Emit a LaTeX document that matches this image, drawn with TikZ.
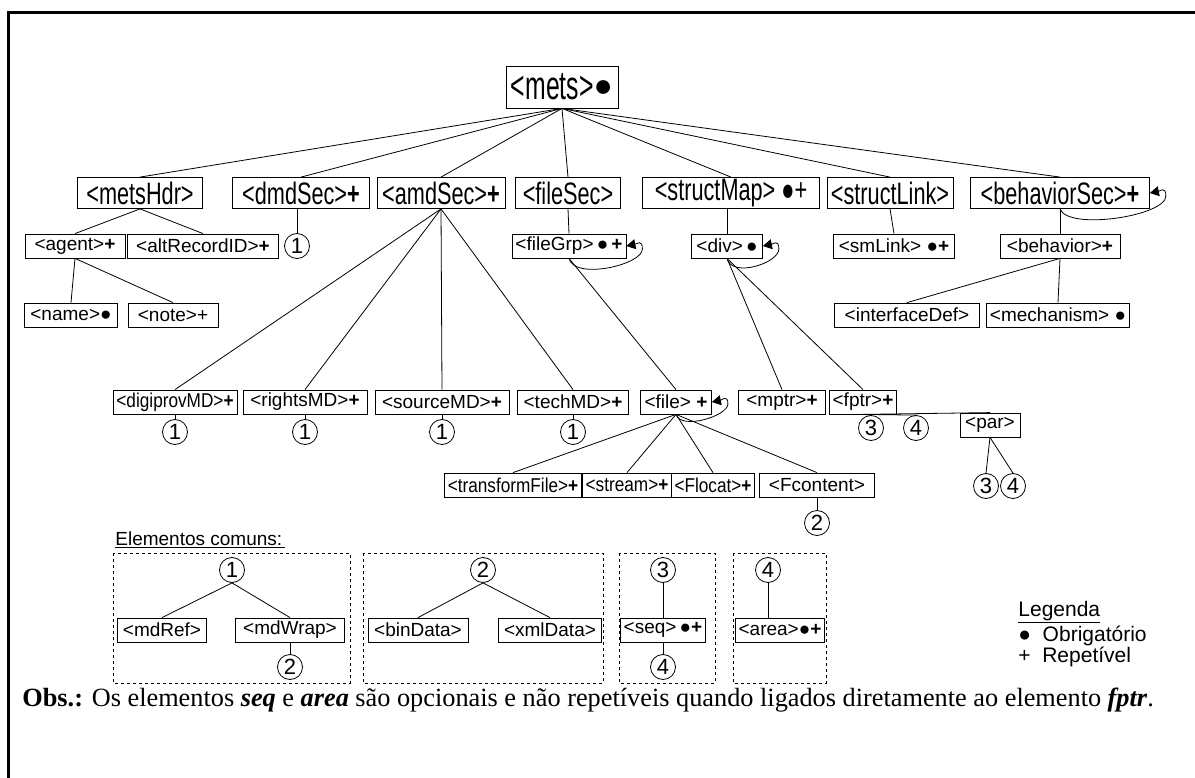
\documentclass[tikz,border=0pt]{standalone}
\usepackage{fontspec}
\setmainfont{Liberation Sans}
\newfontfamily\arialn[FakeStretch=0.7]{Liberation Sans}
\newfontfamily\arialt[FakeStretch=0.62]{Liberation Sans}
\newfontfamily\arialm[FakeStretch=0.86]{Liberation Sans}
\newfontfamily\arialr{Liberation Sans}
\newfontfamily\timesf{Liberation Serif}
\usetikzlibrary{arrows.meta,calc}
\newcommand\fsm{\fontsize{19}{22}\selectfont}
\newcommand\fsn{\arialm\fontsize{20}{22}\selectfont}
\newcommand\fbg{\arialn\fontsize{31}{34}\selectfont}
\newcommand\fhg{\arialt\fontsize{40}{44}\selectfont}
\newcommand\fci{\fontsize{22}{24}\selectfont}
\newcommand\pb{\textbf{+}}
\newcommand\blt{●}
\begin{document}
\begin{tikzpicture}[x=1pt,y=-1pt,line width=0.8pt,
  box/.style={draw, fill=white, font=\fsm, inner xsep=3pt, inner ysep=0pt, minimum height=24pt},
  big/.style={draw, fill=white, font=\fbg, inner xsep=4pt, inner ysep=0pt, minimum height=31pt},
  top/.style={draw, fill=white, font=\fhg, inner xsep=5pt, inner ysep=0pt, minimum height=42pt},
  circ/.style={draw, circle, inner sep=0pt, minimum size=25pt, font=\fci},
  mw/.style={minimum width=#1},
  conn/.style={draw, line width=0.8pt},
  selfloop/.style={draw, line width=0.8pt, -{Triangle[length=9pt,width=10pt]}},
  dbox/.style={draw, line width=0.8pt, dash pattern=on 3pt off 3pt},
  plain/.style={font=\fsm, inner sep=0pt, anchor=west}]
\useasboundingbox (0,0) rectangle (1195,778);
\draw[line width=3pt] (8,800) -- (8,13) -- (1210,13);

% level 0
\node[top,mw=104pt] (mets) at (562,87) {<mets>\raisebox{3pt}{\arialr\fontsize{32}{32}\selectfont\blt}};
% level 1
\node[big,mw=125pt] (metsHdr) at (140,193) {<metsHdr>};
\node[big,mw=137pt] (dmdSec) at (301,193) {<dmdSec>\pb};
\node[big,mw=128pt] (amdSec) at (441,193) {<amdSec>\pb};
\node[big,mw=105pt] (fileSec) at (568,193) {<fileSec>};
\node[big,mw=177pt] (structMap) at (731,193) {<structMap> \blt+};
\node[big,mw=122pt] (structLink) at (890,193) {<structLink>};
\node[big,mw=179pt] (behaviorSec) at (1060,193) {<behaviorSec>\pb};
% level 2
\node[box,mw=100pt] (agent) at (75,246) {<agent>\pb};
\node[box,mw=151pt] (altRecordID) at (203,246) {<altRecordID>\pb};
\node[circ] (c1a) at (297,246) {1};
\node[box,mw=114pt] (fileGrp) at (569,246) {<fileGrp>\,\blt\,\pb};
\node[box,mw=71pt] (div) at (727,246) {<div>\,\blt};
\node[box,mw=121pt] (smLink) at (894,246) {<smLink> \blt\pb};
\node[box,mw=120pt] (behavior) at (1060,246) {<behavior>\pb};
% level 3
\node[box,mw=93pt] (name) at (71,315) {<name>\blt};
\node[box,mw=90pt] (note) at (173,315) {<note>+};
\node[box,mw=145pt] (interfaceDef) at (907,315) {<interfaceDef>};
\node[box,mw=143pt] (mechanism) at (1058,315) {<mechanism> \blt};
% level 4
\node[box,font=\fsn,mw=124pt] (digiprovMD) at (175,402) {<digiprovMD>\pb};
\node[box,mw=124pt] (rightsMD) at (305,402) {<rightsMD>\pb};
\node[box,mw=134pt] (sourceMD) at (442,402) {<sourceMD>\pb};
\node[box,mw=111pt] (techMD) at (573,402) {<techMD>\pb};
\node[box,mw=71pt] (file) at (676,402) {<file> \pb};
\node[box,mw=87pt] (mptr) at (782,402) {<mptr>\pb};
\node[box,mw=63pt] (fptr) at (863,402) {<fptr>\pb};
\node[circ] (c1b) at (175,432) {1};
\node[circ] (c1c) at (305,432) {1};
\node[circ] (c1d) at (442,432) {1};
\node[circ] (c1e) at (573,432) {1};
\node[circ] (c3a) at (871,428) {3};
\node[circ] (c4a) at (916,428) {4};
\node[box,mw=60pt] (par) at (990,425) {<par>};
\node[circ] (c3b) at (986,486) {3};
\node[circ] (c4b) at (1013,486) {4};
% level 5
\node[box,font=\fsn,mw=136pt] (transformFile) at (513,485) {<transformFile>\pb};
\node[box,font=\fsn,mw=87pt] (stream) at (627,485) {<stream>\pb};
\node[box,font=\fsn,mw=77pt] (Flocat) at (713,485) {<Flocat>\pb};
\node[box,mw=115pt] (Fcontent) at (817,485) {<Fcontent>};
\node[circ] (c2a) at (817,523) {2};

% connectors
\foreach \n in {metsHdr,dmdSec,amdSec,fileSec,structMap,structLink,behaviorSec}
  \draw[conn] (mets.south) -- (\n.north);
\draw[conn] (metsHdr.south) -- (agent.north);
\draw[conn] (metsHdr.south) -- (altRecordID.north);
\draw[conn] (c1a.north |- dmdSec.south) -- (c1a.north);
\draw[conn] (fileSec.south) -- (fileGrp.north);
\draw[conn] (div.north |- structMap.south) -- (div.north);
\draw[conn] (structLink.south) -- (smLink.north);
\draw[conn] (behaviorSec.south) -- (behavior.north);
\draw[conn] (agent.south) -- (name.north);
\draw[conn] (agent.south) -- (note.north);
\draw[conn] (behavior.south) -- (interfaceDef.north);
\draw[conn] (behavior.south) -- (mechanism.north);
\foreach \n in {digiprovMD,rightsMD,sourceMD,techMD}
  \draw[conn] (amdSec.south) -- (\n.north);
\draw[conn] (digiprovMD.south) -- (c1b.north);
\draw[conn] (rightsMD.south) -- (c1c.north);
\draw[conn] (sourceMD.south) -- (c1d.north);
\draw[conn] (techMD.south) -- (c1e.north);
\draw[conn] (fileGrp.south) -- (file.north);
\draw[conn] (div.south) -- (mptr.north);
\draw[conn] (div.south) -- (fptr.north);
\foreach \n in {transformFile,stream,Flocat,Fcontent}
  \draw[conn] (file.south) -- (\n.north);
\draw[conn] (Fcontent.south) -- (c2a.north);
\draw[conn] (fptr.south) -- (c3a.north);
\draw[conn] (fptr.south) -- (c4a.north);
\draw[conn] (fptr.south) -- (par.north);
\draw[conn] (par.south) -- (c3b.north);
\draw[conn] (par.south) -- (c4b.north);

% self loops
\draw[selfloop] (behaviorSec.south) .. controls +(8,22) and +(0,20) .. ($(behaviorSec.east)+(16,3)$) .. controls +(0,-10) and +(10,-2) .. (behaviorSec.east);
\draw[selfloop] (fileGrp.south) .. controls +(5,22) and +(0,16) .. ($(fileGrp.east)+(16,3)$) .. controls +(0,-10) and +(10,-2) .. (fileGrp.east);
\draw[selfloop] (div.south) .. controls +(5,20) and +(0,14) .. ($(div.east)+(16,3)$) .. controls +(0,-10) and +(10,-2) .. (div.east);
\draw[selfloop] (file.south) .. controls +(5,16) and +(0,12) .. ($(file.east)+(16,2)$) .. controls +(0,-10) and +(10,-2) .. (file.east);

% common elements
\node[plain] (elem) at (115,540) {\underline{Elementos comuns:\,}};
\draw[dbox] (113,553) rectangle (350,683);
\draw[dbox] (363,553) rectangle (603,683);
\draw[dbox] (619,553) rectangle (715,683);
\draw[dbox] (733,553) rectangle (826,683);
\node[circ] (k1) at (232,570) {1};
\node[box,mw=89pt] (mdRef) at (162,630) {<mdRef>};
\node[box,mw=109pt] (mdWrap) at (290,630) {<mdWrap>};
\node[circ] (k2) at (290,667) {2};
\draw[conn] (k1.south) -- (mdRef.north);
\draw[conn] (k1.south) -- (mdWrap.north);
\draw[conn] (mdWrap.south) -- (k2.north);
\node[circ] (k2b) at (483,570) {2};
\node[box,mw=100pt] (binData) at (418,630) {<binData>};
\node[box,mw=103pt] (xmlData) at (550,630) {<xmlData>};
\draw[conn] (k2b.south) -- (binData.north);
\draw[conn] (k2b.south) -- (xmlData.north);
\node[circ] (k3) at (663,570) {3};
\node[box,mw=74pt] (seq) at (663,630) {<seq>\,\blt\pb};
\node[circ] (k4) at (663,667) {4};
\draw[conn] (k3.south) -- (seq.north);
\draw[conn] (seq.south) -- (k4.north);
\node[circ] (k4b) at (768,570) {4};
\node[box,mw=85pt] (area) at (780,630) {<area>\blt\pb};
\draw[conn] (k4b.south) -- (k4b.south |- area.north);

% legend
\node[plain,font=\fontsize{21}{24}\selectfont] (leg) at (1018,612) {\underline{Legenda}};
\node[plain,font=\fontsize{21}{24}\selectfont] (leg1) at (1018,636) {\blt\ \ Obrigatório};
\node[plain,font=\fontsize{21}{24}\selectfont] (leg2) at (1018,657) {+\ \ Repetível};

% note
\node[anchor=west, inner sep=0pt, font=\timesf\fontsize{26.3}{30}\selectfont] (obs) at (22,700)
  {\textbf{Obs.:} Os elementos \textbf{\textit{seq}} e \textbf{\textit{area}} são opcionais e não repetíveis quando ligados diretamente ao elemento \textbf{\textit{fptr}}.};
\end{tikzpicture}
\end{document}
